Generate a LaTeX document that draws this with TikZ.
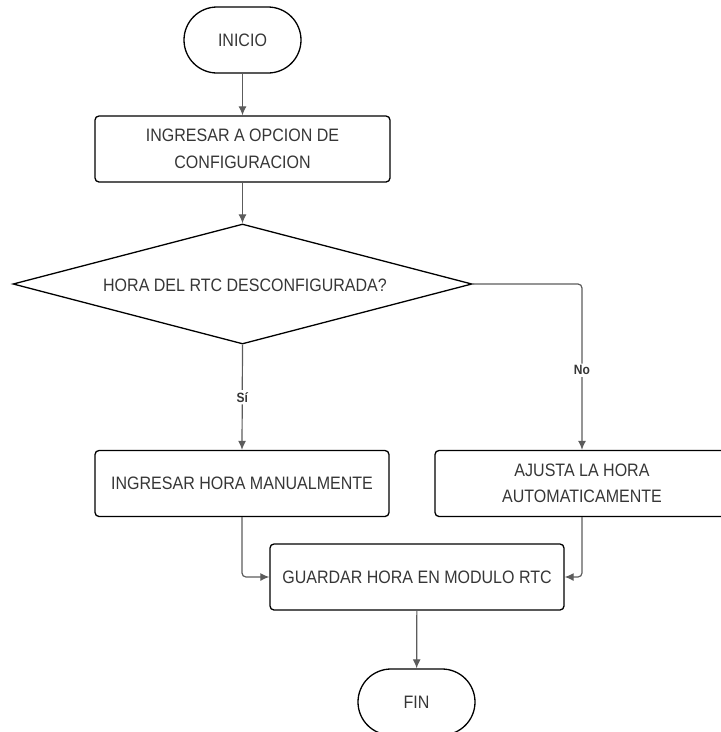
\documentclass[tikz,border=0pt]{standalone}
\usepackage{fontspec}
\setmainfont[FakeStretch=0.89]{Liberation Sans}
\usetikzlibrary{arrows.meta,shapes.geometric}
\definecolor{ink}{HTML}{363636}
\definecolor{wire}{HTML}{5C5C5C}
\begin{document}
\begin{tikzpicture}[x=1pt,y=-1pt,
  txt/.style={text=ink, font=\fontsize{18}{26.5}\selectfont, align=center, inner sep=0pt},
  box/.style={txt, draw=black, line width=1.3pt, rounded corners=4pt,
    minimum width=294pt, minimum height=66pt},
  term/.style={txt, draw=black, line width=1.3pt, rounded corners=33pt,
    minimum width=117pt, minimum height=66pt},
  choice/.style={txt, draw=black, line width=1.3pt, diamond, aspect=3.825,
    minimum width=459pt, minimum height=120pt},
  flow/.style={draw=wire, line width=1.2pt, rounded corners=4pt,
    -{Latex[length=9pt,width=8pt]}},
  tag/.style={fill=white, text=ink, inner sep=2pt,
    font=\bfseries\fontsize{13.5}{13.5}\selectfont}]
\useasboundingbox (0,0) rectangle (721,732);

% process steps
\node[term] (ini) at (242.5,40) {INICIO};
\node[box, minimum width=295pt] (cfg) at (242.5,149) {INGRESAR A OPCION DE\\CONFIGURACION};
\node[choice] (dec) at (242.5,284) {};
\node[txt] (q) at (245,285) {HORA DEL RTC DESCONFIGURADA?};
\node[box] (man) at (242,483.5) {INGRESAR HORA MANUALMENTE};
\node[box] (auto) at (582,483.5) {AJUSTA LA HORA\\AUTOMATICAMENTE};
\node[box] (save) at (417,577) {GUARDAR HORA EN MODULO RTC};
\node[term] (fin) at (416.5,702) {FIN};

% connectors
\draw[flow] (ini) -- (cfg);
\draw[flow] (cfg) -- (dec);
\draw[flow] (dec.south) -- node[tag] {Sí} (man.north);
\draw[flow] (dec.east) -| node[tag, pos=0.76] {No} (auto.north);
\draw[flow] (man.south) |- (save.west);
\draw[flow] (auto.south) |- (save.east);
\draw[flow] (save) -- (fin);
\end{tikzpicture}
\end{document}
